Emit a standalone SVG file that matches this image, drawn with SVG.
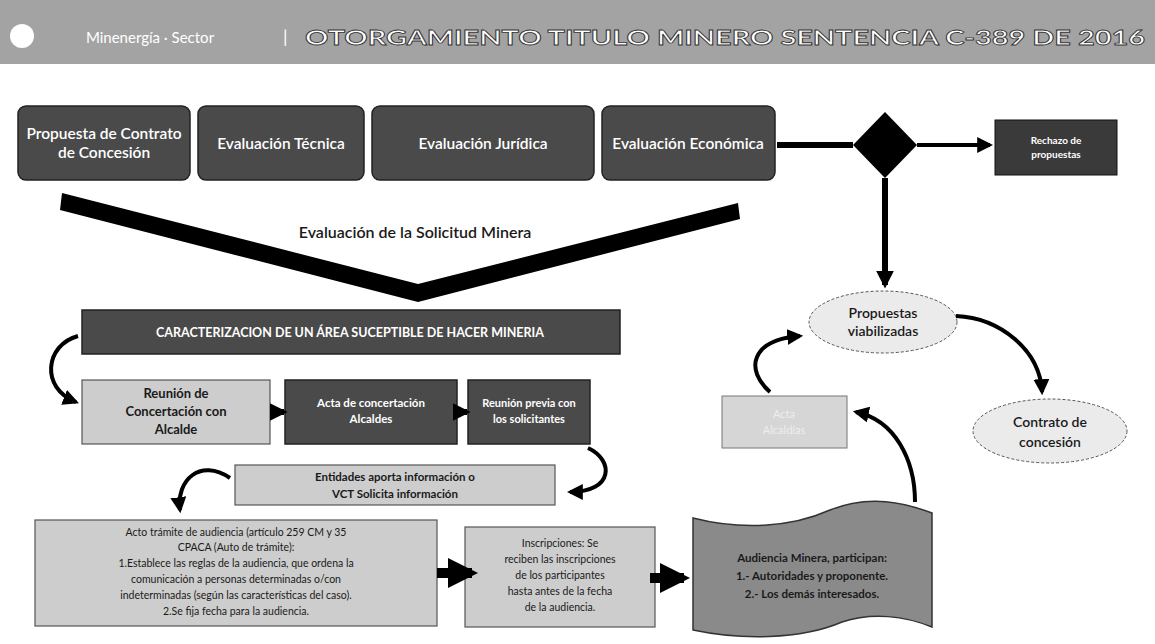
<svg xmlns="http://www.w3.org/2000/svg" width="1155" height="644" viewBox="0 0 1155 644">
<defs>
<style>
.dark{fill:#4a4a4a;stroke:#222;stroke-width:1.5}
.light{fill:#cdcdcd;stroke:#555;stroke-width:1.2}
.tw{font-family:Lato,"Open Sans","Liberation Sans",sans-serif;fill:#fff;font-weight:bold;text-anchor:middle}
.tb{font-family:Lato,"Open Sans","Liberation Sans",sans-serif;fill:#fff;font-weight:600;text-anchor:middle;font-size:15.5px}
.td{font-family:Lato,"Open Sans","Liberation Sans",sans-serif;fill:#1a1a1a;font-weight:bold;text-anchor:middle}
.tn{font-family:Lato,"Open Sans","Liberation Sans",sans-serif;fill:#1a1a1a;text-anchor:middle}
.con{fill:none;stroke:#000;stroke-width:4}
.thick{fill:none;stroke:#000;stroke-width:6}
</style>
<marker id="ah" viewBox="0 0 10 10" refX="8" refY="5" markerWidth="4" markerHeight="4" orient="auto"><path d="M0,0 L10,5 L0,10 z" fill="#000"/></marker>
<marker id="ah2" viewBox="0 0 10 10" refX="8" refY="5" markerWidth="3" markerHeight="3" orient="auto"><path d="M0,0 L10,5 L0,10 z" fill="#000"/></marker>
</defs>
<rect width="1155" height="644" fill="#fff"/>

<g id="header">
<rect x="0" y="0" width="1155" height="64" fill="#a3a3a3"/>
<circle cx="22" cy="36" r="12" fill="#fff"/>
<text x="150" y="43" font-family="Lato,'Liberation Sans',sans-serif" font-size="15" fill="#fff" text-anchor="middle">Minenergía · Sector</text>
<text x="283" y="43" font-family="Lato,'Liberation Sans',sans-serif" font-size="18" fill="#fff">|</text>
<text x="305" y="45" font-family="Lato,'Liberation Sans',sans-serif" font-size="21" font-weight="bold" fill="#fff" stroke="#333" stroke-width="0.8" textLength="840" lengthAdjust="spacingAndGlyphs">OTORGAMIENTO TITULO MINERO SENTENCIA C-389 DE 2016</text>
</g>

<g id="n-propuesta"><rect class="dark" x="18" y="106" width="172" height="74" rx="8"/><text class="tb" x="104" y="139">Propuesta de Contrato</text><text class="tb" x="104" y="158">de Concesión</text></g>
<g id="n-tecnica"><rect class="dark" x="198" y="106" width="166" height="74" rx="8"/><text class="tb" x="281" y="149">Evaluación Técnica</text></g>
<g id="n-juridica"><rect class="dark" x="372" y="106" width="222" height="74" rx="8"/><text class="tb" x="483" y="149">Evaluación Jurídica</text></g>
<g id="n-economica"><rect class="dark" x="602" y="106" width="173" height="74" rx="8"/><text class="tb" x="688" y="149">Evaluación Económica</text></g>

<g id="n-decision"><polygon points="885,112 917,145 885,178 853,145" fill="#000"/></g>
<g id="n-rechazo"><rect x="995" y="120" width="122" height="55" fill="#3a3a3a" stroke="#111"/><text class="tw" font-size="10" x="1056" y="144">Rechazo de</text><text class="tw" font-size="10" x="1056" y="158">propuestas</text></g>

<g id="n-chevron">
<polygon points="62,193 418,284 738,203 740,219 418,302 60,210" fill="#000"/>
<text class="td" font-size="16" x="415" y="238" style="font-weight:600">Evaluación de la Solicitud Minera</text>
</g>

<g id="n-caracterizacion"><rect class="dark" x="82" y="310" width="538" height="44"/><text class="tw" font-size="12.5" x="350" y="337">CARACTERIZACION DE UN ÁREA SUCEPTIBLE DE HACER MINERIA</text></g>

<g id="n-reunion"><rect class="light" x="82" y="380" width="188" height="64"/><text class="td" font-size="13" x="176" y="398">Reunión de</text><text class="td" font-size="13" x="176" y="416">Concertación con</text><text class="td" font-size="13" x="176" y="434">Alcalde</text></g>
<g id="n-acta"><rect class="dark" x="285" y="380" width="172" height="64"/><text class="tw" font-size="11.5" x="371" y="407">Acta de concertación</text><text class="tw" font-size="11.5" x="371" y="423">Alcaldes</text></g>
<g id="n-previa"><rect class="dark" x="468" y="380" width="122" height="64"/><text class="tw" font-size="11" x="529" y="407">Reunión previa con</text><text class="tw" font-size="11" x="529" y="423">los solicitantes</text></g>

<g id="n-entidades"><rect class="light" x="235" y="465" width="320" height="40"/><text class="td" font-size="11.5" x="395" y="481">Entidades aporta información o</text><text class="td" font-size="11.5" x="395" y="498">VCT Solicita información</text></g>

<g id="n-auto"><rect class="light" x="35" y="520" width="402" height="106"/>
<text class="tn" font-size="10.5" x="236" y="536">Acto trámite de audiencia (artículo 259 CM y 35</text>
<text class="tn" font-size="10.5" x="236" y="551">CPACA (Auto de trámite):</text>
<text class="tn" font-size="10.5" x="236" y="567">1.Establece las reglas de la audiencia, que ordena la</text>
<text class="tn" font-size="10.5" x="236" y="583">comunicación a personas determinadas o/con</text>
<text class="tn" font-size="10.5" x="236" y="599">indeterminadas (según las características del caso).</text>
<text class="tn" font-size="10.5" x="236" y="615">2.Se fija fecha para la audiencia.</text>
</g>

<g id="n-inscripciones"><rect class="light" x="465" y="527" width="190" height="100"/>
<text class="tn" font-size="10.5" x="560" y="547">Inscripciones: Se</text>
<text class="tn" font-size="10.5" x="560" y="563">reciben las inscripciones</text>
<text class="tn" font-size="10.5" x="560" y="579">de los participantes</text>
<text class="tn" font-size="10.5" x="560" y="595">hasta antes de la fecha</text>
<text class="tn" font-size="10.5" x="560" y="611">de la audiencia.</text>
</g>

<g id="n-audiencia"><path d="M693,518 C740,530 790,528 830,510 C870,494 905,503 932,513 L932,627 C905,616 872,612 842,622 C800,640 740,640 693,630 Z" fill="#8a8a8a" stroke="#333" stroke-width="1.5"/>
<text class="td" font-size="11.5" x="812" y="562">Audiencia Minera, participan:</text>
<text class="td" font-size="11.5" x="812" y="580">1.- Autoridades y proponente.</text>
<text class="td" font-size="11.5" x="812" y="598">2.- Los demás interesados.</text>
</g>

<g id="n-alcaldias"><rect x="722" y="396" width="125" height="52" fill="#d6d6d6" stroke="#777"/><text x="784" y="418" font-family="Lato,'Liberation Sans',sans-serif" font-size="11" fill="#eee" text-anchor="middle">Acta</text><text x="784" y="434" font-family="Lato,'Liberation Sans',sans-serif" font-size="11" fill="#eee" text-anchor="middle">Alcaldías</text></g>

<g id="n-viabilizadas"><ellipse cx="883" cy="322" rx="74" ry="31" fill="#ebebeb" stroke="#555" stroke-dasharray="3 2"/><text class="td" font-size="14" x="883" y="318" style="font-weight:600">Propuestas</text><text class="td" x="883" y="336" font-size="14" style="font-weight:600">viabilizadas</text></g>
<g id="n-contrato"><ellipse cx="1050" cy="431" rx="77" ry="32" fill="#ebebeb" stroke="#555" stroke-dasharray="3 2"/><text class="td" font-size="14" x="1050" y="427" style="font-weight:600">Contrato de</text><text class="td" font-size="14" x="1050" y="447" style="font-weight:600">concesión</text></g>

<g id="connectors">
<line class="thick" x1="777" y1="145" x2="853" y2="145"/>
<line class="con" x1="917" y1="145" x2="990" y2="145" marker-end="url(#ah)"/>
<line class="thick" x1="885" y1="178" x2="885" y2="285" marker-end="url(#ah2)"/>
<path class="con" d="M956,316 C1000,318 1040,350 1042,392" marker-end="url(#ah)"/>
<path class="con" d="M770,392 C745,370 750,340 800,336" marker-end="url(#ah)"/>
<path class="con" d="M915,502 C915,460 895,420 856,412" marker-end="url(#ah)"/>
<path class="con" d="M78,336 C45,345 40,388 76,402" marker-end="url(#ah)"/>
<line class="thick" x1="270" y1="412" x2="284" y2="412" marker-end="url(#ah2)"/>
<line class="thick" x1="457" y1="412" x2="467" y2="412" marker-end="url(#ah2)"/>
<path class="con" d="M588,448 C614,460 614,492 570,492" marker-end="url(#ah)"/>
<path class="con" d="M230,478 C200,458 176,480 180,510" marker-end="url(#ah)"/>
<line x1="437" y1="573" x2="472" y2="573" stroke="#000" stroke-width="10" marker-end="url(#ah2)"/>
<line x1="650" y1="578" x2="684" y2="578" stroke="#000" stroke-width="10" marker-end="url(#ah2)"/>
</g>
</svg>
